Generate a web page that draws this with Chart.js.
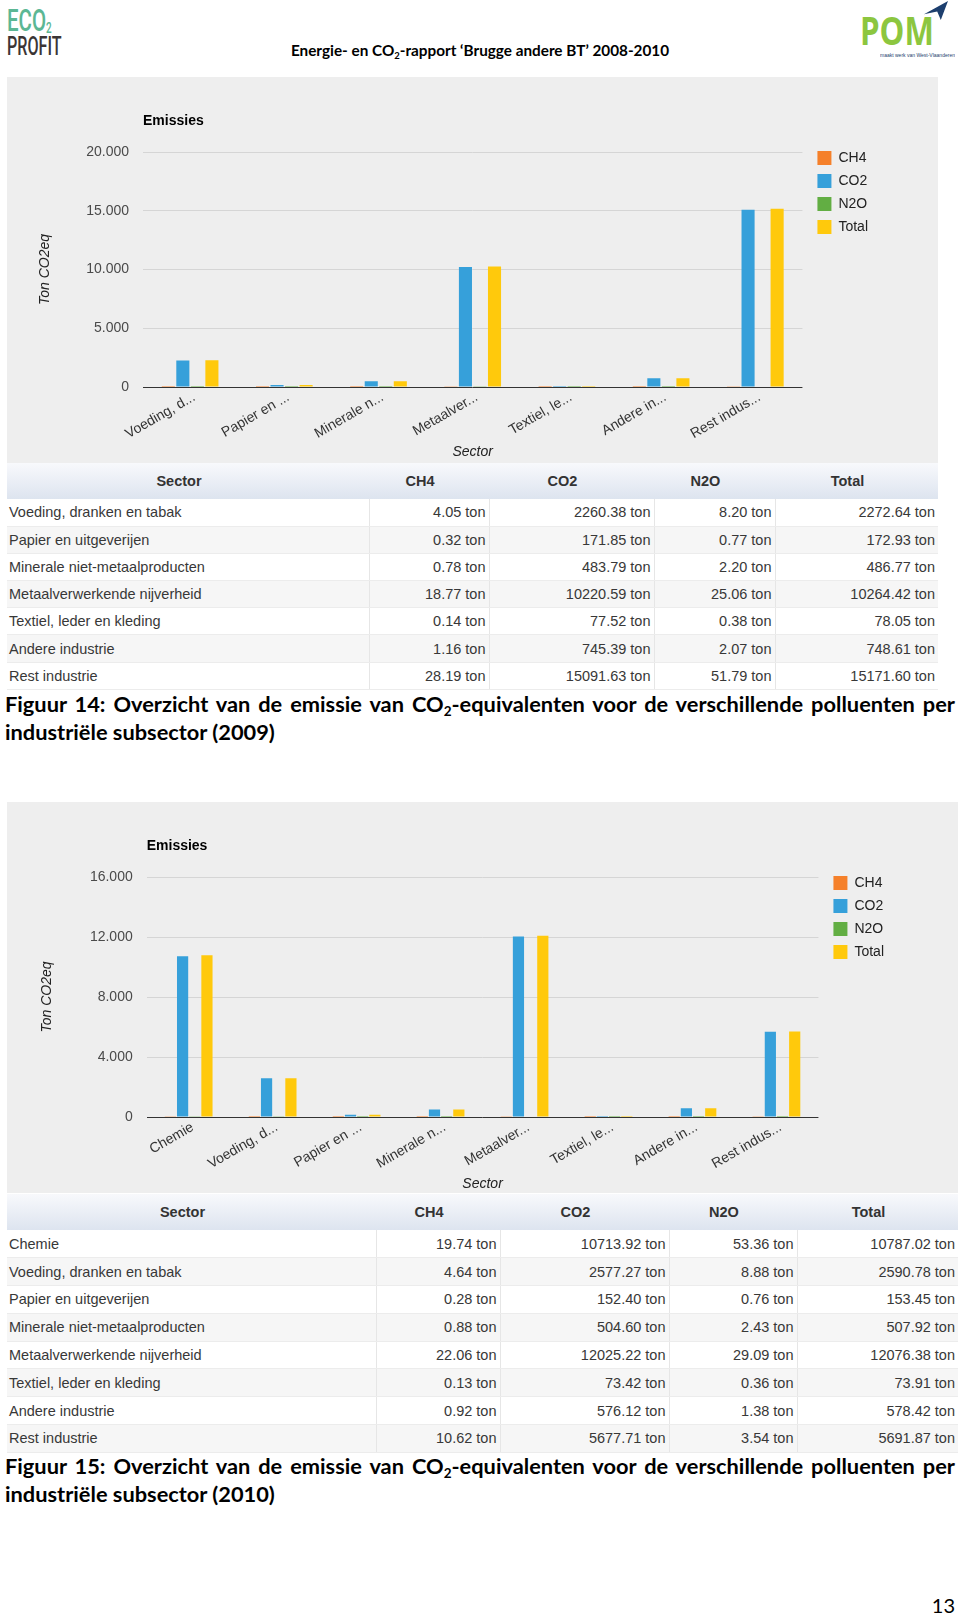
<!DOCTYPE html>
<html><head><meta charset="utf-8">
<script src="https://cdn.jsdelivr.net/npm/chart.js@4.4.1/dist/chart.umd.min.js"></script>
<style>
html,body{margin:0;padding:0;background:#fff}
body{width:960px;height:1616px;position:relative;overflow:hidden;font-family:'Liberation Sans',Arial,sans-serif}
.abs{position:absolute}
.panel{position:absolute;background:#eeeeee}
.cap{position:absolute;left:5px;font-family:Lato,'Open Sans',sans-serif;font-weight:700;font-size:21.8px;color:#000;line-height:28px;white-space:nowrap}
.cap .l1{text-align:justify;text-align-last:justify;white-space:normal}
sub{font-size:0.62em;vertical-align:-0.28em;line-height:0}
table.dt{position:absolute;border-collapse:collapse;table-layout:fixed;font-size:14.5px;color:#383838;background:#fff}
table.dt th{font-weight:bold;text-align:center;padding:0 18px 0 0;background:linear-gradient(#f8f9fc,#dde4ef);color:#333}
table.dt td{padding:0 3px 0 2px;border-right:1px solid #e6e6e6;border-bottom:1px solid #ececec;white-space:nowrap;overflow:hidden}
table.dt td:last-child{border-right:none}
table.dt td.num{text-align:right}
table.dt tbody tr:nth-child(even) td{background:#f6f6f6}
</style></head>
<body>

<!-- header -->
<div class="abs" style="left:7px;top:5px;font-family:Roboto,sans-serif;font-weight:500;color:#5bb794;font-size:31px;line-height:31px;transform:scaleX(0.66);transform-origin:0 0;white-space:nowrap">ECO<span style="font-size:15px;vertical-align:-2px">2</span></div>
<div class="abs" style="left:7px;top:33px;font-family:Roboto,sans-serif;font-weight:500;color:#3b3535;font-size:26px;line-height:26px;transform:scaleX(0.62);transform-origin:0 0;white-space:nowrap">PROFIT</div>

<div class="abs" style="left:0;width:960px;top:41px;text-align:center;font-family:Lato,sans-serif;font-weight:700;font-size:15.3px;color:#000;white-space:nowrap">Energie- en CO<sub>2</sub>-rapport ‘Brugge andere BT’ 2008-2010</div>

<div class="abs" style="left:860px;top:10px;font-family:'Open Sans',sans-serif;font-weight:700;color:#8cc63f;font-size:40px;line-height:40px;transform:scaleX(0.78);transform-origin:0 0;white-space:nowrap">POM</div>
<div class="abs" style="left:924px;top:1px;width:24px;height:19px;background:#1d3f6e;clip-path:polygon(0 70%,100% 0,70% 100%,55% 55%)"></div>
<div class="abs" style="left:880px;top:52px;font-size:10px;color:#1d3f6e;transform:scale(0.5);transform-origin:0 0;white-space:nowrap">maakt werk van West-Vlaanderen</div>

<!-- chart 1 -->
<div class="panel" style="left:7px;top:77px;width:931px;height:386px"></div>
<canvas id="c2009" class="abs" style="left:7px;top:77px" width="931" height="386"></canvas>
<table class="dt" id="t2009" style="left:7px;top:463px;width:931px"></table>
<div class="cap" style="top:690px;width:950px">
  <div class="l1">Figuur 14: Overzicht van de emissie van CO<sub>2</sub>-equivalenten voor de verschillende polluenten per</div>
  <div>industriële subsector (2009)</div>
</div>

<!-- chart 2 -->
<div class="panel" style="left:7px;top:802px;width:951px;height:391px"></div>
<canvas id="c2010" class="abs" style="left:7px;top:802px" width="951" height="391"></canvas>
<table class="dt" id="t2010" style="left:7px;top:1194px;width:951px"></table>
<div class="cap" style="top:1452px;width:950px">
  <div class="l1">Figuur 15: Overzicht van de emissie van CO<sub>2</sub>-equivalenten voor de verschillende polluenten per</div>
  <div>industriële subsector (2010)</div>
</div>

<div class="abs" style="right:5px;top:1593px;font-family:Lato,sans-serif;font-size:20px;color:#000">13</div>

<script>
// ---------- data ----------
const seriesNames = ['CH4', 'CO2', 'N2O', 'Total'];
const seriesColors = ['#f5802a', '#36a0da', '#62ae43', '#ffc90c'];

const sectors2009 = ['Voeding, dranken en tabak', 'Papier en uitgeverijen', 'Minerale niet-metaalproducten',
  'Metaalverwerkende nijverheid', 'Textiel, leder en kleding', 'Andere industrie', 'Rest industrie'];
const tickLabels2009 = ['Voeding, d...', 'Papier en ...', 'Minerale n...', 'Metaalver...', 'Textiel, le...', 'Andere in...', 'Rest indus...'];
const ch4_2009 = [4.05, 0.32, 0.78, 18.77, 0.14, 1.16, 28.19];
const co2_2009 = [2260.38, 171.85, 483.79, 10220.59, 77.52, 745.39, 15091.63];
const n2o_2009 = [8.20, 0.77, 2.20, 25.06, 0.38, 2.07, 51.79];
const total_2009 = [2272.64, 172.93, 486.77, 10264.42, 78.05, 748.61, 15171.60];
const yTicks2009 = [0, 5000, 10000, 15000, 20000];

const sectors2010 = ['Chemie', 'Voeding, dranken en tabak', 'Papier en uitgeverijen', 'Minerale niet-metaalproducten',
  'Metaalverwerkende nijverheid', 'Textiel, leder en kleding', 'Andere industrie', 'Rest industrie'];
const tickLabels2010 = ['Chemie', 'Voeding, d...', 'Papier en ...', 'Minerale n...', 'Metaalver...', 'Textiel, le...', 'Andere in...', 'Rest indus...'];
const ch4_2010 = [19.74, 4.64, 0.28, 0.88, 22.06, 0.13, 0.92, 10.62];
const co2_2010 = [10713.92, 2577.27, 152.40, 504.60, 12025.22, 73.42, 576.12, 5677.71];
const n2o_2010 = [53.36, 8.88, 0.76, 2.43, 29.09, 0.36, 1.38, 3.54];
const total_2010 = [10787.02, 2590.78, 153.45, 507.92, 12076.38, 73.91, 578.42, 5691.87];
const yTicks2010 = [0, 4000, 8000, 12000, 16000];

// ---------- helpers ----------
Chart.defaults.font.family = "'Liberation Sans', Arial, sans-serif";
const fmtThousands = v => String(v).replace(/\B(?=(\d{3})+(?!\d))/g, '.');

const legendShift = {
  id: 'legendShift',
  afterLayout(chart, args, opts) {
    const l = chart.legend;
    if (!l) return;
    l.left += opts.dx; l.right += opts.dx;
    l.top += opts.dy; l.bottom += opts.dy;
  }
};

function makeChart(id, labels, series, ticks, L) {
  new Chart(document.getElementById(id), {
    type: 'bar',
    data: {
      labels: labels,
      datasets: series.map((d, i) => ({
        label: seriesNames[i], data: d, backgroundColor: seriesColors[i], borderWidth: 0,
        barPercentage: L.bar, categoryPercentage: L.cat
      }))
    },
    options: {
      responsive: false, animation: false, devicePixelRatio: 1,
      layout: { padding: { left: 0, right: L.padR, top: 0, bottom: 0 } },
      plugins: {
        title: { display: true, text: 'Emissies', align: 'start', fullSize: false, color: '#000',
          font: { size: 14, weight: 'bold' }, padding: { top: 35.6, bottom: 22.6 } },
        legend: { position: 'right', align: 'start', fullSize: false,
          labels: { boxWidth: 14, boxHeight: 14, padding: 9, color: '#222', font: { size: 14 } } },
        tooltip: { enabled: false },
        legendShift: { dx: L.ldx, dy: L.ldy }
      },
      scales: {
        x: {
          grid: { display: false }, border: { display: false },
          ticks: { color: '#333', font: { size: 14 }, minRotation: 30, maxRotation: 30, autoSkip: false, padding: -6, labelOffset: 4 },
          title: { display: true, text: 'Sector', color: '#222', font: { size: 14, style: 'italic' }, padding: { top: 0, bottom: L.xtb } },
          afterFit: s => { s.height = L.xh; }
        },
        y: {
          min: ticks[0], max: ticks[ticks.length - 1],
          afterBuildTicks: s => { s.ticks = ticks.map(v => ({ value: v })); },
          ticks: { color: '#4a4a4a', font: { size: 14 }, padding: 14, callback: v => fmtThousands(v) },
          grid: { drawTicks: false, color: c => c.tick && c.tick.value === 0 ? '#333' : '#d5d5d5', lineWidth: 1 },
          border: { display: false },
          title: { display: true, text: 'Ton CO2eq', color: '#222', font: { size: 14, style: 'italic' }, padding: { top: L.ytp, bottom: 0 } },
          afterFit: s => { s.width = L.yw; }
        }
      }
    },
    plugins: [legendShift]
  });
}

function buildTable(id, sectors, series, widths, headH, rowH) {
  const t = document.getElementById(id);
  let h = '<colgroup>' + widths.map(w => '<col style="width:' + w + 'px">').join('') + '</colgroup>';
  h += '<thead><tr style="height:' + headH + 'px"><th>Sector</th>' + seriesNames.map(n => '<th>' + n + '</th>').join('') + '</tr></thead><tbody>';
  sectors.forEach((s, r) => {
    h += '<tr style="height:' + rowH + 'px"><td>' + s + '</td>' +
      series.map(d => '<td class="num">' + d[r].toFixed(2) + ' ton</td>').join('') + '</tr>';
  });
  t.innerHTML = h + '</tbody>';
}

makeChart('c2009', tickLabels2009, [ch4_2009, co2_2009, n2o_2009, total_2009], yTicks2009,
  { bar: 0.9, cat: 0.617, padR: 66, ldx: 6, ldy: -10, xh: 76, xtb: 2.6, ytp: 29.6, yw: 136 });
makeChart('c2010', tickLabels2010, [ch4_2010, co2_2010, n2o_2010, total_2010], yTicks2010,
  { bar: 0.92, cat: 0.58, padR: 70, ldx: 6, ldy: -10, xh: 76, xtb: 0.6, ytp: 31.6, yw: 139.7 });

buildTable('t2009', sectors2009, [ch4_2009, co2_2009, n2o_2009, total_2009], [362, 120, 165, 121, 163], 36, 27.2);
buildTable('t2010', sectors2010, [ch4_2010, co2_2010, n2o_2010, total_2010], [369, 124, 169, 128, 161], 36, 27.8);
</script>
</body></html>
